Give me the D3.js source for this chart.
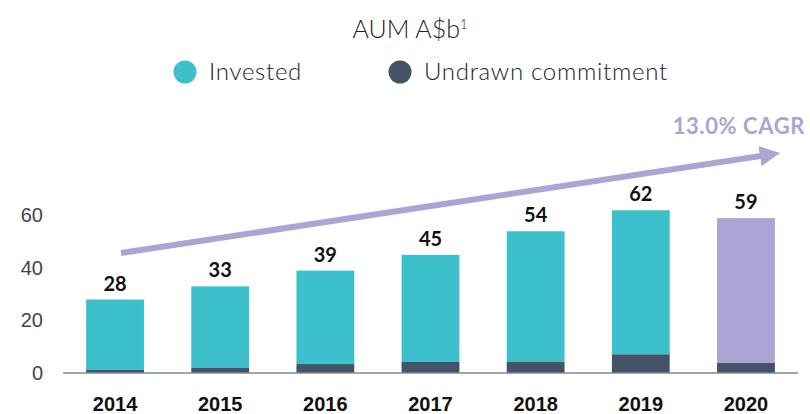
<!DOCTYPE html>
<html>
<head>
<meta charset="utf-8">
<style>
    body { margin: 0; background: #fff; }
    svg { font-family: Lato, 'Open Sans', sans-serif; }
    .y .tick text { font-size: 20px; fill: #444; font-weight: 300; }
    .x .tick text { font-size: 20px; fill: #111; font-weight: 700; }
    .val { font-size: 20px; font-weight: 700; fill: #111; }
</style>
</head>
<body>
<svg width="810" height="414"></svg>
<script src="https://d3js.org/d3.v7.min.js"></script>
<script>
    let years = ["2014", "2015", "2016", "2017", "2018", "2019", "2020"]
    let totals = [28, 33, 39, 45, 54, 62, 59]
    let undrawn = [1.2, 2.0, 3.4, 4.2, 4.3, 7.1, 3.8]
    let yTicks = [0, 20, 40, 60]
    let cagrLabel = "13.0% CAGR"

    let colors = { invested: "#3cc1cc", undrawn: "#435466", last: "#aba4d4", axis: "#7f8a96" }

    let width = 810, height = 414
    let margin = { top: 0, right: 12, bottom: 41, left: 63 }

    let svg = d3.select("svg")

    let x = d3.scaleBand()
        .domain(years)
        .range([margin.left, width - margin.right])
        .paddingInner(0.45)
        .paddingOuter(0.22)

    let y = d3.scaleLinear()
        .domain([0, 60])
        .range([height - margin.bottom, height - margin.bottom - 157.5])

    let data = years.map((yr, i) => ({ year: yr, total: totals[i], undrawn: undrawn[i] }))

    // invested part (top) - last year is lavender
    svg.append("g").selectAll("rect")
        .data(data)
        .join("rect")
        .attr("x", d => x(d.year))
        .attr("width", x.bandwidth())
        .attr("y", d => y(d.total))
        .attr("height", d => y(d.undrawn) - y(d.total))
        .attr("fill", (d, i) => i == data.length - 1 ? colors.last : colors.invested)

    // undrawn part (bottom)
    svg.append("g").selectAll("rect")
        .data(data)
        .join("rect")
        .attr("x", d => x(d.year))
        .attr("width", x.bandwidth())
        .attr("y", d => y(d.undrawn))
        .attr("height", d => y(0) - y(d.undrawn))
        .attr("fill", colors.undrawn)

    // baseline
    svg.append("line")
        .attr("x1", margin.left).attr("x2", width - margin.right)
        .attr("y1", y(0)).attr("y2", y(0))
        .attr("stroke", colors.axis).attr("stroke-width", 1.5)

    // value labels
    svg.append("g").selectAll("text")
        .data(data)
        .join("text")
        .attr("class", "val")
        .attr("x", d => x(d.year) + x.bandwidth() / 2)
        .attr("y", d => y(d.total) - 9)
        .attr("text-anchor", "middle")
        .text(d => d.total)

    // axes
    svg.append("g")
        .attr("class", "y")
        .attr("transform", `translate(43,0)`)
        .call(d3.axisLeft(y).tickValues(yTicks).tickSize(0).tickPadding(0))
        .call(g => g.select(".domain").remove())

    svg.append("g")
        .attr("class", "x")
        .attr("transform", `translate(0,${y(0)})`)
        .call(d3.axisBottom(x).tickSize(0).tickPadding(24))
        .call(g => g.select(".domain").remove())

    // title
    let title = svg.append("text")
        .attr("x", 410).attr("y", 38)
        .attr("text-anchor", "middle")
        .style("font-size", "25px").style("font-weight", 300).style("fill", "#222")
    title.append("tspan").text("AUM A$b")
    title.append("tspan").text("1").attr("dy", -9).style("font-size", "13px")

    // legend
    let legend = [
        { label: "Invested", color: colors.invested, x: 185 },
        { label: "Undrawn commitment", color: colors.undrawn, x: 400 }
    ]
    let lg = svg.append("g").selectAll("g")
        .data(legend)
        .join("g")
        .attr("transform", d => `translate(${d.x},72)`)
    lg.append("circle").attr("r", 11.5).attr("fill", d => d.color)
    lg.append("text")
        .attr("x", 24).attr("dy", "0.35em")
        .style("font-size", "24px").style("font-weight", 300).style("fill", "#222")
        .style("letter-spacing", "0.7px")
        .text(d => d.label)

    // CAGR arrow
    let defs = svg.append("defs")
    defs.append("marker")
        .attr("id", "head")
        .attr("viewBox", "0 0 10 10")
        .attr("refX", 3).attr("refY", 5)
        .attr("markerWidth", 3.4).attr("markerHeight", 3.4)
        .attr("orient", "auto")
        .append("path").attr("d", "M0,0 L10,5 L0,10 Z").attr("fill", colors.last)

    let x0 = x("2014") + x.bandwidth() / 2 + 6
    let x1 = x("2020") + x.bandwidth() / 2 + 20
    svg.append("line")
        .attr("x1", x0).attr("y1", y(45.7))
        .attr("x2", x1).attr("y2", y(83))
        .attr("stroke", colors.last).attr("stroke-width", 6)
        .attr("marker-end", "url(#head)")

    svg.append("text")
        .attr("x", 805).attr("y", 134)
        .attr("text-anchor", "end")
        .style("font-size", "22px").style("font-weight", 700).style("fill", colors.last)
        .style("letter-spacing", "0.6px")
        .text(cagrLabel)
</script>
</body>
</html>
